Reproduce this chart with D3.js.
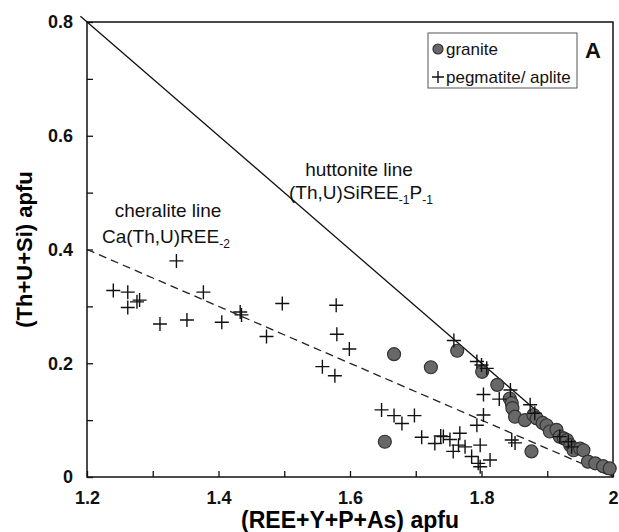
<!DOCTYPE html>
<html>
<head>
<meta charset="utf-8">
<script src="https://cdn.jsdelivr.net/npm/d3@7"></script>
<style>
  body { margin: 0; background: #fff; }
  text { font-family: "Liberation Sans", Arial, sans-serif; }
</style>
</head>
<body>
<svg id="chart" width="619" height="532"></svg>
<script>
(function(){

	// granite analyses (REE+Y+P+As, Th+U+Si)
	var granite = [
		[1.653,0.062],[1.667,0.216],[1.723,0.193],[1.763,0.222],[1.801,0.185],
		[1.824,0.162],[1.843,0.138],[1.846,0.130],[1.847,0.121],[1.851,0.106],
		[1.866,0.100],[1.876,0.045],[1.879,0.109],[1.884,0.103],[1.893,0.095],
		[1.899,0.091],[1.904,0.080],[1.914,0.083],[1.919,0.071],[1.925,0.068],
		[1.930,0.065],[1.935,0.056],[1.940,0.047],[1.950,0.050],[1.955,0.047],
		[1.962,0.027],[1.973,0.024],[1.985,0.019],[1.995,0.015]
	];

	// pegmatite / aplite analyses
	var pegmatite = [
		[1.240,0.328],[1.262,0.325],[1.262,0.298],[1.276,0.308],[1.280,0.311],
		[1.336,0.380],[1.311,0.269],[1.352,0.276],[1.377,0.325],[1.405,0.272],
		[1.433,0.290],[1.435,0.285],[1.473,0.247],[1.497,0.305],[1.579,0.302],
		[1.580,0.251],[1.599,0.225],[1.558,0.194],[1.577,0.178],
		[1.648,0.118],[1.667,0.108],[1.679,0.094],[1.698,0.108],
		[1.709,0.070],[1.729,0.059],[1.738,0.072],[1.742,0.071],[1.752,0.066],
		[1.767,0.077],[1.765,0.056],[1.775,0.053],[1.798,0.056],[1.785,0.036],
		[1.795,0.024],[1.813,0.030],[1.757,0.045],[1.798,0.018],
		[1.758,0.240],[1.793,0.203],[1.800,0.197],[1.808,0.191],[1.803,0.145],
		[1.827,0.137],[1.844,0.153],[1.803,0.109],[1.793,0.091],[1.874,0.127],
		[1.881,0.112],[1.846,0.065],[1.851,0.060],[1.919,0.071],[1.932,0.062],
		[1.937,0.053]
	];

	var huttoniteLine = [[1.19,0.81],[2.0,0.0]];
	var cheraliteLine = [[1.2,0.4],[2.0,0.0]];

	var xTicks = [1.2,1.3,1.4,1.5,1.6,1.7,1.8,1.9,2.0];
	var xLabels = { "1.2":"1.2", "1.4":"1.4", "1.6":"1.6", "1.8":"1.8", "2":"2" };
	var yTicks = [0,0.1,0.2,0.3,0.4,0.5,0.6,0.7,0.8];
	var yLabels = { "0":"0", "0.2":"0.2", "0.4":"0.4", "0.6":"0.6", "0.8":"0.8" };

	var left = 87, right = 613, top = 22, bottom = 477;

	var svg = d3.select("#chart");

	var x = d3.scaleLinear().domain([1.2, 2.0]).range([left, right]);
	var y = d3.scaleLinear().domain([0, 0.8]).range([bottom, top]);

	drawAxes();
	drawLines();
	drawPoints();
	drawLabels();
	drawLegend();

	function tickText(map){
		return function(d){ var k = String(+d.toFixed(1)); return map[k] || ""; };
	}

	function drawAxes(){
		var xAxis = d3.axisBottom(x).tickValues(xTicks).tickSizeInner(-6).tickSizeOuter(0)
			.tickPadding(14).tickFormat(tickText(xLabels));
		var gx = svg.append("g").attr("transform", "translate(0," + bottom + ")").call(xAxis);

		var yAxis = d3.axisLeft(y).tickValues(yTicks).tickSizeInner(-6).tickSizeOuter(0)
			.tickPadding(14).tickFormat(tickText(yLabels));
		var gy = svg.append("g").attr("transform", "translate(" + left + ",0)").call(yAxis);

		[gx, gy].forEach(function(g){
			g.select(".domain").remove();
			g.selectAll("line").attr("stroke", "#111").attr("stroke-width", 1.3);
			g.selectAll("text").attr("fill", "#111").style("font-size", "18px")
				.style("font-weight", "bold").style("font-family", "'Liberation Sans', Arial, sans-serif");
		});

		svg.append("rect")
			.attr("x", left).attr("y", top)
			.attr("width", right - left).attr("height", bottom - top)
			.attr("fill", "none").attr("stroke", "#111").attr("stroke-width", 1.5);

		svg.append("text")
			.attr("x", 350).attr("y", 528)
			.attr("text-anchor", "middle")
			.style("font-size", "23px").style("font-weight", "bold")
			.text("(REE+Y+P+As) apfu");

		svg.append("text")
			.attr("transform", "translate(32," + ((top + bottom) / 2) + ") rotate(-90)")
			.attr("text-anchor", "middle")
			.style("font-size", "22px").style("font-weight", "bold")
			.text("(Th+U+Si) apfu");
	}

	function drawLines(){
		var line = d3.line().x(function(d){ return x(d[0]); }).y(function(d){ return y(d[1]); });

		svg.append("path").datum(huttoniteLine)
			.attr("d", line).attr("fill", "none")
			.attr("stroke", "#111").attr("stroke-width", 1.3);

		svg.append("path").datum(cheraliteLine)
			.attr("d", line).attr("fill", "none")
			.attr("stroke", "#222").attr("stroke-width", 1.3)
			.attr("stroke-dasharray", "8,5");
	}

	function drawPoints(){
		svg.append("g").selectAll("circle").data(granite).enter().append("circle")
			.attr("cx", function(d){ return x(d[0]); })
			.attr("cy", function(d){ return y(d[1]); })
			.attr("r", 6.5)
			.attr("fill", "#686868")
			.attr("stroke", "#333")
			.attr("stroke-width", 1.2);

		svg.append("g").selectAll("path").data(pegmatite).enter().append("path")
			.attr("d", function(d){
				var cx = x(d[0]), cy = y(d[1]), s = 7;
				return "M" + (cx - s) + "," + cy + "H" + (cx + s) + "M" + cx + "," + (cy - s) + "V" + (cy + s);
			})
			.attr("stroke", "#111")
			.attr("stroke-width", 1.4)
			.attr("fill", "none");
	}

	function drawLabels(){
		svg.append("text").attr("x", 359).attr("y", 176)
			.attr("text-anchor", "middle").style("font-size", "19px").attr("fill", "#111")
			.text("huttonite line");

		var f1 = svg.append("text").attr("x", 289).attr("y", 199)
			.style("font-size", "19px").attr("fill", "#111");
		f1.append("tspan").text("(Th,U)SiREE");
		f1.append("tspan").attr("dy", 5).style("font-size", "12px").text("-1");
		f1.append("tspan").attr("dy", -5).text("P");
		f1.append("tspan").attr("dy", 5).style("font-size", "12px").text("-1");

		svg.append("text").attr("x", 168).attr("y", 217)
			.attr("text-anchor", "middle").style("font-size", "19px").attr("fill", "#111")
			.text("cheralite line");

		var f2 = svg.append("text").attr("x", 102).attr("y", 243)
			.style("font-size", "19px").attr("fill", "#111");
		f2.append("tspan").text("Ca(Th,U)REE");
		f2.append("tspan").attr("dy", 5).style("font-size", "12px").text("-2");
	}

	function drawLegend(){
		var g = svg.append("g");
		g.append("rect").attr("x", 428).attr("y", 33).attr("width", 149).attr("height", 55)
			.attr("fill", "#fff").attr("stroke", "#555").attr("stroke-width", 1);

		g.append("circle").attr("cx", 438).attr("cy", 49).attr("r", 5)
			.attr("fill", "#686868").attr("stroke", "#333").attr("stroke-width", 1.2);
		g.append("text").attr("x", 446).attr("y", 55).style("font-size", "17px")
			.attr("fill", "#111").text("granite");

		g.append("path").attr("d", "M432,77H444M438,71V83")
			.attr("stroke", "#111").attr("stroke-width", 1.4);
		g.append("text").attr("x", 446).attr("y", 83).style("font-size", "17px")
			.attr("fill", "#111").text("pegmatite/ aplite");

		svg.append("text").attr("x", 593).attr("y", 58).attr("text-anchor", "middle")
			.style("font-size", "22px").style("font-weight", "bold").attr("fill", "#111")
			.text("A");
	}

})();
</script>
</body>
</html>
